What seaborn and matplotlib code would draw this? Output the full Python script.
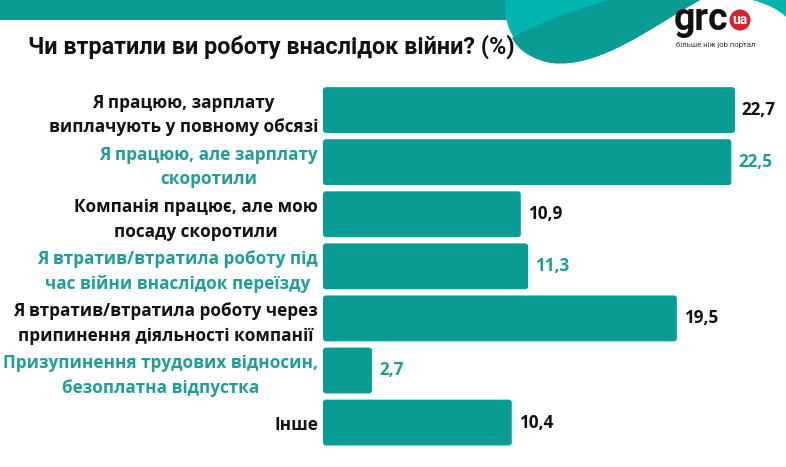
import matplotlib
matplotlib.use("Agg")
import matplotlib.pyplot as plt
from matplotlib.patches import FancyBboxPatch, PathPatch, Rectangle, Circle
from matplotlib.path import Path
import seaborn as sns
import pandas as pd

categories = [
    "Я працюю, зарплату\nвиплачують у повному обсязі",
    "Я працюю, але зарплату\nскоротили",
    "Компанія працює, але мою\nпосаду скоротили",
    "Я втратив/втратила роботу під\nчас війни внаслідок переїзду",
    "Я втратив/втратила роботу через\nприпинення діяльності компанії",
    "Призупинення трудових відносин,\nбезоплатна відпустка",
    "Інше",
]
values = [22.7, 22.5, 10.9, 11.3, 19.5, 2.7, 10.4]
value_labels = ["22,7", "22,5", "10,9", "11,3", "19,5", "2,7", "10,4"]
title = "Чи втратили ви роботу внаслідок війни? (%)"

BAR = "#089c95"
TEAL_TXT = "#1f9e98"
DARK = "#111111"
LIGHT = "#00b4ae"

sns.set_theme(style="white")
plt.rcParams["font.family"] = ["Open Sans", "DejaVu Sans"]

W, H = 786, 467
fig = plt.figure(figsize=(W / 100, H / 100), dpi=100)
fig.patch.set_facecolor("white")

# decoration layer (pixel coordinates)
deco = fig.add_axes([0, 0, 1, 1], zorder=-1)
deco.set_xlim(0, W)
deco.set_ylim(H, 0)
deco.axis("off")
deco.add_patch(Rectangle((0, 0), 512, 20, color=BAR, lw=0))
blob = Path([(505, 0), (503, 30), (520, 58), (552, 63), (600, 68), (650, 28), (700, 0), (505, 0)],
            [Path.MOVETO, Path.CURVE4, Path.CURVE4, Path.CURVE4, Path.CURVE4, Path.CURVE4, Path.CURVE4, Path.CLOSEPOLY])
deco.add_patch(PathPatch(blob, color=LIGHT, lw=0))
wave = Path([(512, 38), (540, 22), (575, 10), (610, 0), (700, 0), (650, 28), (600, 68), (552, 63),
             (532, 60), (518, 50), (512, 38), (512, 38)],
            [Path.MOVETO, Path.CURVE4, Path.CURVE4, Path.CURVE4, Path.LINETO, Path.CURVE4, Path.CURVE4,
             Path.CURVE4, Path.CURVE4, Path.CURVE4, Path.CURVE4, Path.CLOSEPOLY])
deco.add_patch(PathPatch(wave, color=BAR, lw=0))
corner = Path([(752, 0), (768, 4), (779, 10), (786, 17), (786, 0), (752, 0)],
              [Path.MOVETO, Path.CURVE4, Path.CURVE4, Path.CURVE4, Path.LINETO, Path.CLOSEPOLY])
deco.add_patch(PathPatch(corner, color=LIGHT, lw=0))
# logo
deco.text(674, 30, "grc", fontsize=27, fontweight="bold", color="#111111",
          family=["Roboto", "DejaVu Sans"], va="baseline", ha="left")
deco.add_patch(Circle((740, 20), 10.5, color="#d6232f", lw=0))
deco.text(740, 20.5, "ua", fontsize=10, fontweight="bold", color="white",
          family=["Roboto", "DejaVu Sans"], va="center", ha="center")
deco.text(676, 45, "більше ніж job портал", fontsize=5.6, color="#333333",
          family=["Roboto", "DejaVu Sans"], va="center", ha="left")

fig.text(28 / W, 1 - 47 / H, title, fontsize=16.8, fontweight="bold", color=DARK,
         family=["Roboto", "DejaVu Sans"], va="center", ha="left")

# main chart
ax = fig.add_axes([323 / W, 0.0394, 453.7 / W, 0.7807])
ax.set_facecolor("none")
df = pd.DataFrame({"cat": categories, "val": values})
sns.barplot(data=df, x="val", y="cat", orient="h", color=BAR, width=0.88, saturation=1, ax=ax)
ax.set_xlim(0, 25)
ax.set_ylim(6.5, -0.5)
ax.set_xlabel("")
ax.set_ylabel("")
ax.set_xticks([])
for s in ax.spines.values():
    s.set_visible(False)
ax.tick_params(axis="y", length=0, pad=3.6)

colors = [DARK if i % 2 == 0 else TEAL_TXT for i in range(len(categories))]
for t, c in zip(ax.get_yticklabels(), colors):
    t.set_color(c)
    t.set_fontsize(12.3)
    t.set_fontweight("bold")
    t.set_multialignment("center")
    t.set_linespacing(1.45)

container = ax.containers[0]
texts = ax.bar_label(container, labels=value_labels, padding=5, fontsize=12.3, fontweight="bold")
for t, c in zip(texts, colors):
    t.set_color(c)

# rounded corners
px_x = 453.7 / 25
px_y = 0.7807 * H / 7
for rect in container:
    x, y = rect.get_x(), rect.get_y()
    w, h = rect.get_width(), rect.get_height()
    rect.set_visible(False)
    fb = FancyBboxPatch((x, y), w, h, boxstyle="round,pad=0,rounding_size=%f" % (3 / px_x),
                        mutation_aspect=px_x / px_y, color=BAR, lw=0)
    ax.add_patch(fb)

fig.savefig("out.png", dpi=100)
